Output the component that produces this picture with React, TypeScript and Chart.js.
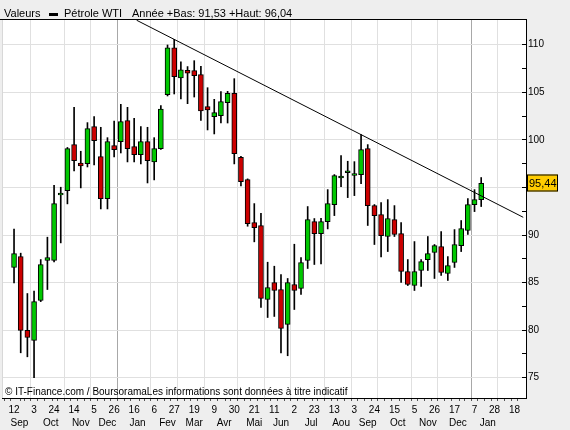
import React, { useEffect, useRef } from 'react';
import { Chart, registerables } from 'chart.js';

Chart.register(...registerables);

// Weekly WTI candles, week 0 = 12 Sep 2011 ... week 70 = 14 Jan 2013
const opens = [
  86.58, 87.74, 79.97, 78.92, 83.12, 87.32, 87.32, 94.2, 94.67, 99.5,
  97.55, 97.5, 101.39, 98.24, 93.83, 99.39, 99.81, 102.02, 99.29, 98.45,
  99.81, 97.68, 99.08, 104.75, 109.68, 106.5, 107.3, 107.27, 106.85, 103.49,
  102.44, 102.54, 103.91, 104.89, 98.17, 95.82, 91.31, 90.99, 83.22, 85.01,
  84.27, 80.6, 84.8, 84.38, 87.32, 91.41, 90.15, 91.41, 93.2, 96.0,
  96.55, 96.25, 96.35, 99.08, 93.09, 92.15, 89.84, 91.62, 90.15, 86.16,
  84.69, 86.27, 87.42, 88.16, 88.79, 85.95, 87.11, 88.89, 90.47, 93.2,
  93.72,
];
const highs = [
  90.61, 88.09, 83.85, 84.1, 87.42, 89.77, 95.23, 95.02, 99.2, 103.42,
  98.8, 101.81, 102.44, 101.32, 100.23, 101.98, 103.73, 103.42, 102.26, 101.39,
  101.32, 100.23, 103.59, 109.97, 110.56, 108.21, 107.7, 108.32, 107.72, 105.48,
  104.26, 105.06, 105.1, 106.43, 98.27, 95.9, 93.3, 92.29, 87.14, 86.72,
  85.85, 85.43, 89.03, 87.63, 92.99, 91.73, 91.76, 94.77, 96.35, 98.34,
  97.75, 97.71, 100.55, 99.5, 93.2, 93.41, 93.72, 93.09, 91.31, 87.42,
  89.31, 87.42, 89.84, 89.0, 90.36, 87.73, 90.57, 91.52, 93.83, 94.77,
  96.04,
];
const lows = [
  84.97, 77.62, 77.2, 75.0, 83.0, 84.27, 87.18, 89.17, 93.27, 96.73,
  94.95, 97.15, 97.36, 92.74, 92.74, 98.2, 98.62, 97.68, 97.68, 97.47,
  95.47, 95.79, 99.0, 104.61, 104.82, 104.29, 103.8, 104.5, 102.05, 101.04,
  100.62, 101.77, 101.77, 97.47, 95.16, 90.92, 89.28, 82.38, 81.33, 81.44,
  77.62, 77.31, 82.17, 83.75, 86.48, 86.9, 86.95, 90.64, 92.04, 95.09,
  93.93, 94.14, 95.4, 91.0, 89.0, 87.7, 88.26, 89.84, 85.01, 84.69,
  84.17, 84.59, 86.27, 85.43, 85.74, 85.22, 86.59, 88.26, 90.05, 92.46,
  92.99,
];
const closes = [
  88.05, 79.97, 79.23, 83.01, 86.9, 87.63, 93.3, 94.4, 99.08, 97.82,
  97.25, 101.18, 99.92, 93.83, 99.81, 98.97, 101.91, 99.08, 98.45, 99.81,
  97.82, 99.08, 103.24, 109.68, 106.64, 107.37, 107.0, 106.74, 103.03, 103.14,
  102.86, 104.01, 104.89, 98.55, 95.61, 91.2, 90.78, 83.33, 84.48, 84.17,
  80.18, 85.01, 84.17, 87.11, 91.62, 90.15, 91.41, 93.3, 96.24, 96.2,
  96.75, 96.45, 98.97, 93.09, 92.04, 89.94, 91.73, 90.05, 86.16, 84.8,
  86.16, 87.21, 88.05, 88.89, 86.06, 86.79, 89.0, 90.68, 93.2, 93.72,
  95.44,
];

// day-of-month labels, one every 3 weeks starting at week 0
const dayLabels = ['12', '3', '24', '14', '5', '26', '16', '6', '27', '19', '9', '30', '21', '11', '2', '23', '13', '3', '24', '15', '5', '26', '17', '7', '28', '18'];
// month names, each centred in its month span
const monthLabels = ['Sep', 'Oct', 'Nov', 'Dec', 'Jan', 'Fev', 'Mar', 'Avr', 'Mai', 'Jun', 'Jul', 'Aou', 'Sep', 'Oct', 'Nov', 'Dec', 'Jan'];
// first week of each month (vertical grid), and of each year
const monthStartWeeks = [3, 8, 12, 16, 21, 25, 29, 34, 38, 42, 47, 51, 55, 60, 64, 69, 73];
const yearStartWeeks = [16, 69];

const yTickValues = [75, 77.5, 80, 82.5, 85, 87.5, 90, 92.5, 95, 97.5, 100, 102.5, 105, 107.5, 110];

// trend line anchors (week, price)
const trendWeeks = [18.37, 76.3];
const trendPrices = [112.57, 91.86];

const seriesName = 'Pétrole WTI';
const yearLow = 91.53;
const yearHigh = 96.04;
const lastPrice = 95.44;

const X_MIN = -1.39;
const X_MAX = 76.3;

const FONT = '"Liberation Sans", Arial, sans-serif';
const GREEN = '#00C800';
const RED = '#CC0000';

const fmt = (v: number) => v.toFixed(2).replace('.', ',');

// centres of month spans (between month-start grid lines)
const monthBounds = [X_MIN, ...monthStartWeeks];
const monthCenters = monthLabels.map((_, k) => (monthBounds[k] + monthBounds[k + 1]) / 2);

const decorPlugin = {
  id: 'decor',
  beforeDraw(chart: any) {
    const { ctx, chartArea: a, width, height } = chart;
    ctx.save();
    ctx.fillStyle = '#EEEEEE';
    ctx.fillRect(0, 0, width, height);
    ctx.fillStyle = '#FFFFFF';
    ctx.fillRect(a.left, a.top, a.right - a.left, a.bottom - a.top);
    ctx.restore();
  },
  afterDraw(chart: any) {
    const { ctx, chartArea: a } = chart;
    ctx.save();
    ctx.strokeStyle = '#000';
    ctx.lineWidth = 1;
    ctx.beginPath();
    ctx.moveTo(0, a.top + 0.5);
    ctx.lineTo(a.right, a.top + 0.5);
    ctx.stroke();
    ctx.strokeStyle = '#D8D8D8';
    ctx.beginPath();
    ctx.moveTo(a.left + 0.5, a.top + 1);
    ctx.lineTo(a.left + 0.5, a.bottom);
    ctx.stroke();
    ctx.fillStyle = '#000';
    ctx.font = `11px ${FONT}`;
    ctx.textBaseline = 'alphabetic';
    ctx.textAlign = 'left';
    ctx.fillText('Valeurs', 4, 16.5);
    ctx.fillRect(49, 13, 9, 3);
    ctx.fillText(seriesName, 64, 16.5);
    ctx.fillText(`Année +Bas: ${fmt(yearLow)} +Haut: ${fmt(yearHigh)}`, 132, 16.5);
    ctx.font = `10px ${FONT}`;
    ctx.fillText('© IT-Finance.com / BoursoramaLes informations sont données à titre indicatif', 5, a.bottom - 3);
    const y = Math.round(chart.scales.y.getPixelForValue(lastPrice));
    ctx.fillStyle = '#FFCC00';
    ctx.fillRect(a.right + 1, y - 8.5, 31, 17);
    ctx.strokeStyle = '#000';
    ctx.strokeRect(a.right + 1.5, y - 8, 30, 16);
    ctx.fillStyle = '#000';
    ctx.font = `11px ${FONT}`;
    ctx.textBaseline = 'middle';
    ctx.fillText(fmt(lastPrice), a.right + 3, y + 0.5);
    ctx.restore();
  },
};

export default function App() {
  const ref = useRef<HTMLCanvasElement>(null);

  useEffect(() => {
    const weeks = opens.map((_, i) => i);
    const chart = new Chart(ref.current as HTMLCanvasElement, {
      type: 'bar',
      data: {
        datasets: [
          {
            type: 'line',
            data: trendWeeks.map((w, i) => ({ x: w, y: trendPrices[i] })),
            borderColor: '#000',
            borderWidth: 1,
            pointRadius: 0,
            order: 0,
          } as any,
          {
            type: 'bar',
            data: weeks.map((i) => ({ x: i, y: [opens[i], closes[i]] })),
            backgroundColor: weeks.map((i) => (closes[i] >= opens[i] ? GREEN : RED)),
            borderColor: '#000',
            borderWidth: 1,
            borderSkipped: false,
            barThickness: 5,
            grouped: false,
            order: 1,
          } as any,
          {
            type: 'bar',
            data: weeks.map((i) => ({ x: i, y: [lows[i], highs[i]] })),
            backgroundColor: '#000',
            borderWidth: 0,
            barThickness: 1,
            grouped: false,
            order: 2,
          } as any,
        ],
      },
      options: {
        responsive: false,
        animation: false,
        layout: { padding: { left: 2, top: 19, right: 0, bottom: 0 } },
        plugins: {
          legend: { display: false },
          title: { display: false },
          tooltip: { enabled: false },
        },
        scales: {
          x: {
            type: 'linear',
            min: X_MIN,
            max: X_MAX,
            afterBuildTicks: (scale: any) => {
              const t: any[] = [];
              for (let v = -1; v <= 76; v++) t.push({ value: v, week: true });
              monthCenters.forEach((c, k) => t.push({ value: c, month: k }));
              t.sort((p, q) => p.value - q.value);
              scale.ticks = t;
            },
            afterFit: (scale: any) => {
              scale.height = 32;
            },
            ticks: {
              autoSkip: false,
              maxRotation: 0,
              minRotation: 0,
              padding: 3,
              color: '#000',
              font: { family: FONT, size: 10, lineHeight: 1.3 },
              callback: (v: any, index: number, ticks: any[]) => {
                const tk = ticks[index];
                if (tk && tk.month !== undefined) return ['', monthLabels[tk.month]];
                const n = Number(v);
                if (n >= 0 && n % 3 === 0 && n / 3 < dayLabels.length) return dayLabels[n / 3];
                return '';
              },
            },
            grid: {
              color: (c: any) => {
                const tk = c.tick;
                if (!tk || !tk.week) return 'rgba(0,0,0,0)';
                if (yearStartWeeks.includes(tk.value)) return '#A8A8A8';
                if (monthStartWeeks.includes(tk.value)) return '#E0E0E0';
                return 'rgba(0,0,0,0)';
              },
              tickColor: (c: any) => (c.tick && c.tick.week ? '#555' : 'rgba(0,0,0,0)'),
              tickLength: 3,
              lineWidth: 1,
            },
            border: { display: true, color: '#000' },
          },
          y: {
            type: 'linear',
            position: 'right',
            min: 72.87,
            max: 112.7,
            afterBuildTicks: (scale: any) => {
              scale.ticks = yTickValues.map((v) => ({ value: v }));
            },
            afterFit: (scale: any) => {
              scale.width = 44;
            },
            ticks: {
              padding: 6,
              color: '#000',
              font: { family: FONT, size: 10 },
              callback: (v: any) => (Number(v) % 5 === 0 ? String(v) : ''),
            },
            grid: {
              color: (c: any) => (c.tick && c.tick.value % 5 === 0 ? '#E0E0E0' : 'rgba(0,0,0,0)'),
              tickColor: '#000',
              tickLength: -4,
              lineWidth: 1,
            },
            border: { display: true, color: '#000' },
          },
        },
      },
      plugins: [decorPlugin],
    } as any);
    return () => chart.destroy();
  }, []);

  return (
    <div style={{ position: 'fixed', left: 0, top: 0, width: 570, height: 430 }}>
      <canvas ref={ref} width={570} height={430} style={{ width: 570, height: 430, display: 'block' }} />
    </div>
  );
}
